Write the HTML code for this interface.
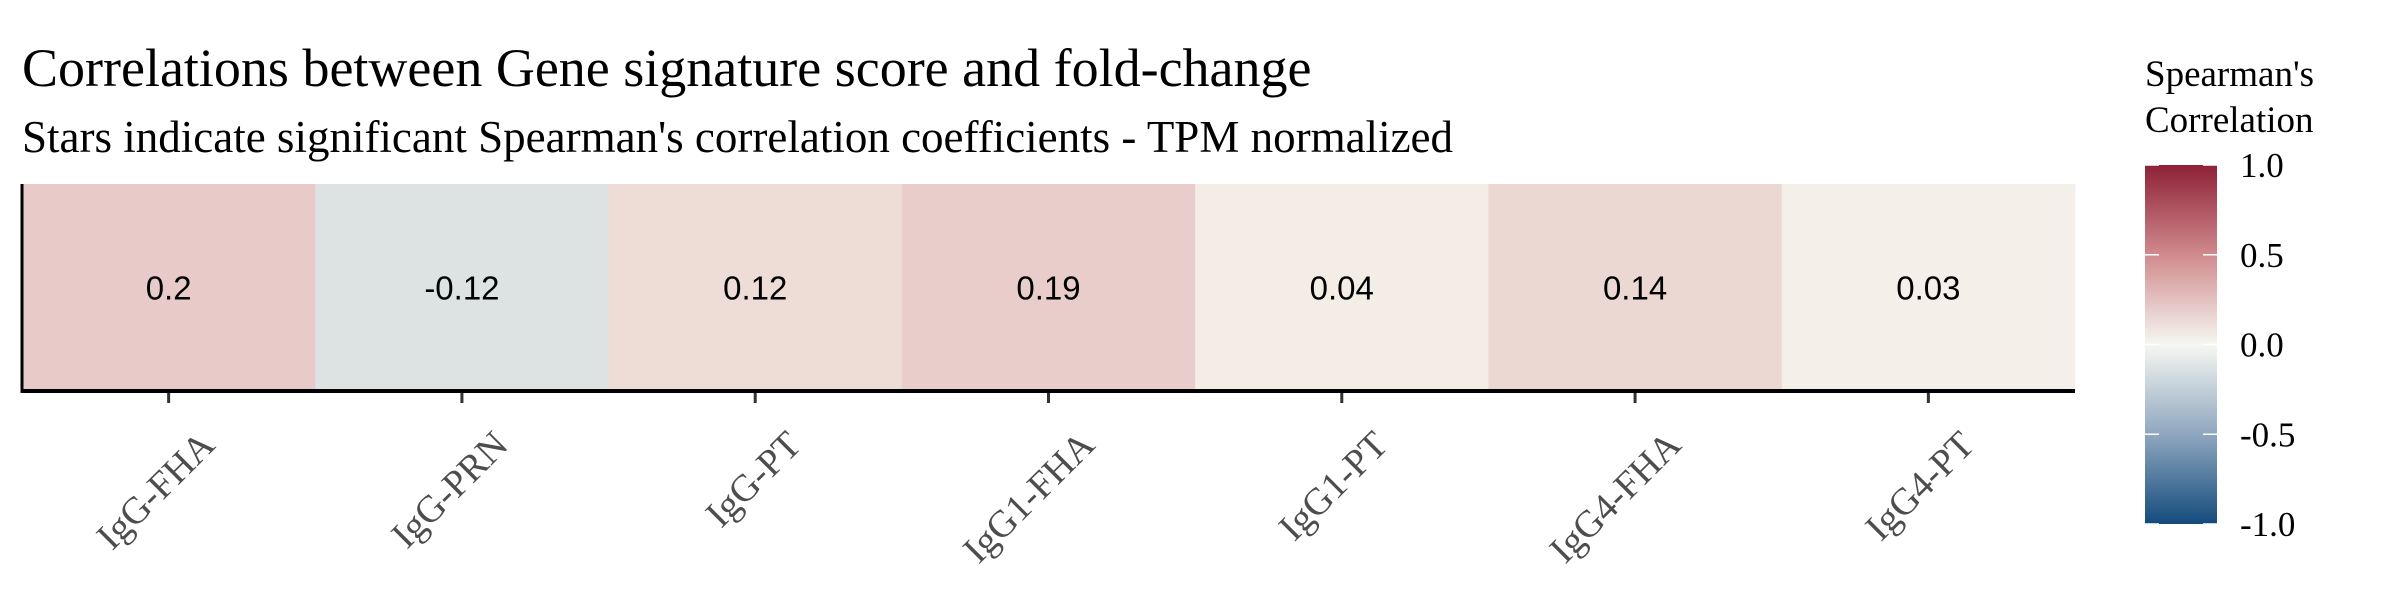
<!DOCTYPE html>
<html><head><meta charset="utf-8"><style>
html,body{margin:0;padding:0;background:#fff;}
svg{display:block;}
</style></head><body>
<svg id="chart" width="2400" height="600" viewBox="0 0 2400 600" xmlns="http://www.w3.org/2000/svg">
<defs>
<linearGradient id="cg" x1="0" y1="1" x2="0" y2="0">
<stop offset="0" stop-color="#134b7c"/>
<stop offset="0.25" stop-color="#8fa7c0"/>
<stop offset="0.5" stop-color="#f6f7f1"/>
<stop offset="0.75" stop-color="#d08a8d"/>
<stop offset="1" stop-color="#8e2137"/>
</linearGradient>
</defs>
<text x="22" y="86" font-family="Liberation Serif, serif" font-size="54" fill="#000">Correlations between Gene signature score and fold-change</text>
<text x="22" y="152" font-family="Liberation Serif, serif" font-size="45" fill="#000">Stars indicate significant Spearman's correlation coefficients - TPM normalized</text>
<g id="cells"></g>
<g id="axis"></g>
<g id="legend">
<text x="2145" y="86" font-family="Liberation Serif, serif" font-size="37">Spearman's</text>
<text x="2145" y="132" font-family="Liberation Serif, serif" font-size="37">Correlation</text>
<rect x="2145" y="165" width="72" height="359" fill="url(#cg)"/>
</g>
</svg>
<script>
const categories = ["IgG-FHA","IgG-PRN","IgG-PT","IgG1-FHA","IgG1-PT","IgG4-FHA","IgG4-PT"];
const values = [0.2,-0.12,0.12,0.19,0.04,0.14,0.03];
const legendTicks = [1.0,0.5,0.0,-0.5,-1.0];
const legendLabels = ["1.0","0.5","0.0","-0.5","-1.0"];

const NS="http://www.w3.org/2000/svg";
const X0=22, X1=2075, Y0=184, Y1=391;
const bw=(X1-X0)/categories.length;
function xScale(i){return X0+i*bw;}
const stops=[[-1,[19,75,124]],[-0.5,[143,167,192]],[0,[246,245,238]],[0.5,[212,140,143]],[1,[142,33,55]]];
function color(v){
  for(let k=0;k<stops.length-1;k++){
    const a=stops[k],b=stops[k+1];
    if(v>=a[0]&&v<=b[0]){const t=(v-a[0])/(b[0]-a[0]);
      const c=a[1].map((x,j)=>Math.round(x+(b[1][j]-x)*t));return `rgb(${c})`;}
  }
  return "#ccc";
}
function legY(v){return 524-(v+1)/2*359;}
function mk(tag,attrs,parent){const e=document.createElementNS(NS,tag);for(const k in attrs)e.setAttribute(k,attrs[k]);parent.appendChild(e);return e;}
const cells=document.getElementById('cells'), axis=document.getElementById('axis'), legend=document.getElementById('legend');
categories.forEach((c,i)=>{
  const r=mk('rect',{x:xScale(i),y:Y0,width:bw+0.5,height:Y1-Y0,fill:color(values[i])},cells);
  
  
  const t=mk('text',{x:xScale(i)+bw/2,y:(Y0+Y1)/2+12,'text-anchor':'middle','font-family':'Liberation Sans, sans-serif','font-size':'33',fill:'#000'},cells);
  t.textContent=values[i];
  
  
  const cx=xScale(i)+bw/2;
  const tk=mk('line',{x1:cx,y1:Y1,x2:cx,y2:Y1+12,stroke:'#333','stroke-width':'3'},axis);
  
  
  const lb=mk('text',{x:0,y:0,'text-anchor':'end','font-family':'Liberation Serif, serif','font-size':'38',fill:'#4d4d4d',transform:`translate(${cx+48},${Y1+56}) rotate(-45)`},axis);
  lb.textContent=c;
  
  
});
const ax=mk('line',{x1:X0,y1:Y1,x2:X1,y2:Y1,stroke:'#000','stroke-width':'4'},axis);


const ay=mk('line',{x1:X0,y1:Y0,x2:X0,y2:Y1+2,stroke:'#000','stroke-width':'3'},axis);


legendTicks.forEach((v,i)=>{
  const y=legY(v);
  [[2145,2159],[2203,2217]].forEach(p=>{
    const l=mk('line',{x1:p[0],y1:y,x2:p[1],y2:y,stroke:'#fff','stroke-width':'1.5'},legend);
    
    
  });
  const t=mk('text',{x:2240,y:y+12,'font-family':'Liberation Serif, serif','font-size':'35',fill:'#000'},legend);
  t.textContent=legendLabels[i];
  
  
});
</script>
</body></html>
